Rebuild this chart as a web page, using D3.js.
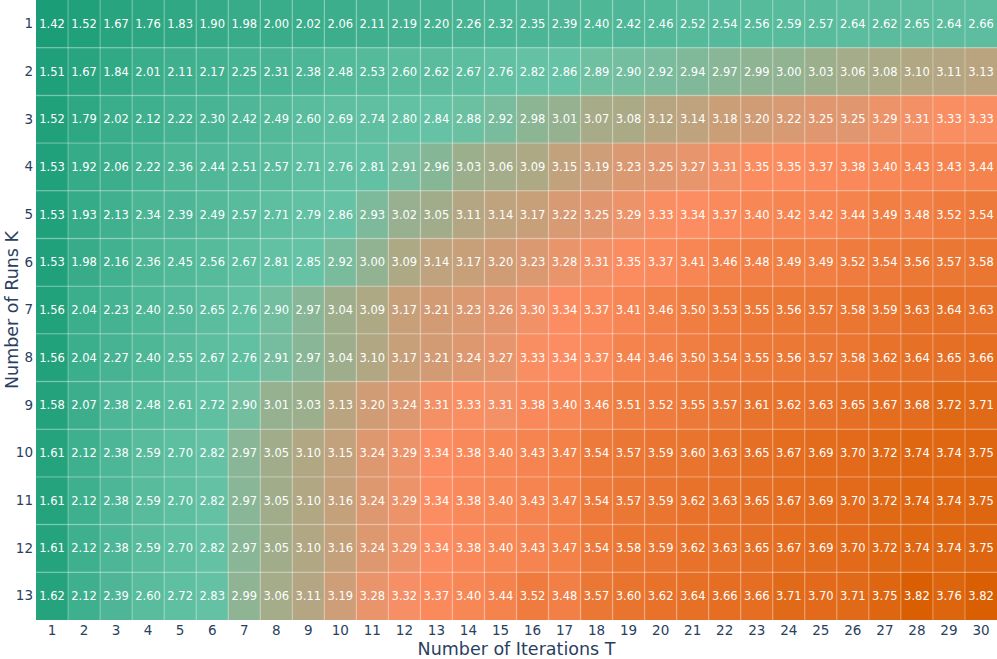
<!DOCTYPE html>
<html><head><meta charset="utf-8">
<script src="https://cdn.jsdelivr.net/npm/d3@7"></script>
<style>body{margin:0;background:#fff}svg{display:block}</style>
</head><body>
<script>
const iterations = d3.range(1, 31);
const runs = d3.range(1, 14);
const row1 = [1.42,1.52,1.67,1.76,1.83,1.90,1.98,2.00,2.02,2.06,2.11,2.19,2.20,2.26,2.32,2.35,2.39,2.40,2.42,2.46,2.52,2.54,2.56,2.59,2.57,2.64,2.62,2.65,2.64,2.66];
const row2 = [1.51,1.67,1.84,2.01,2.11,2.17,2.25,2.31,2.38,2.48,2.53,2.60,2.62,2.67,2.76,2.82,2.86,2.89,2.90,2.92,2.94,2.97,2.99,3.00,3.03,3.06,3.08,3.10,3.11,3.13];
const row3 = [1.52,1.79,2.02,2.12,2.22,2.30,2.42,2.49,2.60,2.69,2.74,2.80,2.84,2.88,2.92,2.98,3.01,3.07,3.08,3.12,3.14,3.18,3.20,3.22,3.25,3.25,3.29,3.31,3.33,3.33];
const row4 = [1.53,1.92,2.06,2.22,2.36,2.44,2.51,2.57,2.71,2.76,2.81,2.91,2.96,3.03,3.06,3.09,3.15,3.19,3.23,3.25,3.27,3.31,3.35,3.35,3.37,3.38,3.40,3.43,3.43,3.44];
const row5 = [1.53,1.93,2.13,2.34,2.39,2.49,2.57,2.71,2.79,2.86,2.93,3.02,3.05,3.11,3.14,3.17,3.22,3.25,3.29,3.33,3.34,3.37,3.40,3.42,3.42,3.44,3.49,3.48,3.52,3.54];
const row6 = [1.53,1.98,2.16,2.36,2.45,2.56,2.67,2.81,2.85,2.92,3.00,3.09,3.14,3.17,3.20,3.23,3.28,3.31,3.35,3.37,3.41,3.46,3.48,3.49,3.49,3.52,3.54,3.56,3.57,3.58];
const row7 = [1.56,2.04,2.23,2.40,2.50,2.65,2.76,2.90,2.97,3.04,3.09,3.17,3.21,3.23,3.26,3.30,3.34,3.37,3.41,3.46,3.50,3.53,3.55,3.56,3.57,3.58,3.59,3.63,3.64,3.63];
const row8 = [1.56,2.04,2.27,2.40,2.55,2.67,2.76,2.91,2.97,3.04,3.10,3.17,3.21,3.24,3.27,3.33,3.34,3.37,3.44,3.46,3.50,3.54,3.55,3.56,3.57,3.58,3.62,3.64,3.65,3.66];
const row9 = [1.58,2.07,2.38,2.48,2.61,2.72,2.90,3.01,3.03,3.13,3.20,3.24,3.31,3.33,3.31,3.38,3.40,3.46,3.51,3.52,3.55,3.57,3.61,3.62,3.63,3.65,3.67,3.68,3.72,3.71];
const row10 = [1.61,2.12,2.38,2.59,2.70,2.82,2.97,3.05,3.10,3.15,3.24,3.29,3.34,3.38,3.40,3.43,3.47,3.54,3.57,3.59,3.60,3.63,3.65,3.67,3.69,3.70,3.72,3.74,3.74,3.75];
const row11 = [1.61,2.12,2.38,2.59,2.70,2.82,2.97,3.05,3.10,3.16,3.24,3.29,3.34,3.38,3.40,3.43,3.47,3.54,3.57,3.59,3.62,3.63,3.65,3.67,3.69,3.70,3.72,3.74,3.74,3.75];
const row12 = [1.61,2.12,2.38,2.59,2.70,2.82,2.97,3.05,3.10,3.16,3.24,3.29,3.34,3.38,3.40,3.43,3.47,3.54,3.58,3.59,3.62,3.63,3.65,3.67,3.69,3.70,3.72,3.74,3.74,3.75];
const row13 = [1.62,2.12,2.39,2.60,2.72,2.83,2.99,3.06,3.11,3.19,3.28,3.32,3.37,3.40,3.44,3.52,3.48,3.57,3.60,3.62,3.64,3.66,3.66,3.71,3.70,3.71,3.75,3.82,3.76,3.82];
const values = [row1,row2,row3,row4,row5,row6,row7,row8,row9,row10,row11,row12,row13];
const colorStops = ["#1b9e77", "#66c2a5", "#fc8d62", "#d95f02"];
const stopFractions = [0, 0.6, 0.8, 1];
const xTitle = "Number of Iterations T";
const yTitle = "Number of Runs K";

const W = 997, H = 659;
const m = {left: 36, right: 0, top: 0, bottom: 39};
const svg = d3.select("body").append("svg").attr("width", W).attr("height", H);
const font = "'DejaVu Sans', sans-serif";
const axisColor = "#2a3f5f";

const x = d3.scaleBand().domain(iterations).range([m.left, W - m.right]).padding(0);
const y = d3.scaleBand().domain(runs).range([m.top, H - m.bottom]).padding(0);

const flat = values.flat();
const zmin = d3.min(flat), zmax = d3.max(flat);
const color = d3.scaleLinear()
  .domain(stopFractions.map(f => zmin + f * (zmax - zmin)))
  .range(colorStops)
  .interpolate(d3.interpolateRgb)
  .clamp(true);

const cells = [];
values.forEach((row, i) => row.forEach((v, j) => cells.push({k: runs[i], t: iterations[j], v})));

const g = svg.append("g");
g.selectAll("rect").data(cells).join("rect")
  .attr("x", d => x(d.t)).attr("y", d => y(d.k))
  .attr("width", x.bandwidth()).attr("height", y.bandwidth())
  .attr("fill", d => color(d.v));

// light grid lines
const grid = svg.append("g").attr("stroke", "#ffffff").attr("stroke-opacity", 0.22).attr("stroke-width", 1.5);
iterations.slice(1).forEach(t => grid.append("line").attr("x1", x(t)).attr("x2", x(t)).attr("y1", m.top).attr("y2", H - m.bottom));
runs.slice(1).forEach(k => grid.append("line").attr("y1", y(k)).attr("y2", y(k)).attr("x1", m.left).attr("x2", W - m.right));

g.selectAll("text").data(cells).join("text")
  .attr("x", d => x(d.t) + x.bandwidth() / 2)
  .attr("y", d => y(d.k) + y.bandwidth() / 2)
  .attr("text-anchor", "middle").attr("dominant-baseline", "central")
  .attr("fill", "#ffffff").attr("font-family", font).attr("font-size", 11.5)
  .text(d => d.v.toFixed(2));

const xAxis = svg.append("g").attr("transform", `translate(0,${H - m.bottom})`)
  .call(d3.axisBottom(x).tickSize(0).tickPadding(5));
const yAxis = svg.append("g").attr("transform", `translate(${m.left},0)`)
  .call(d3.axisLeft(y).tickSize(0).tickPadding(3));
[xAxis, yAxis].forEach(a => {
  a.select(".domain").remove();
  a.selectAll("text").attr("fill", axisColor).attr("font-family", font).attr("font-size", 13.5);
});

svg.append("text").attr("x", (m.left + W - m.right) / 2).attr("y", H - 4)
  .attr("text-anchor", "middle").attr("fill", axisColor).attr("font-family", font).attr("font-size", 17.5)
  .text(xTitle);
svg.append("text").attr("transform", `translate(18,${(m.top + H - m.bottom) / 2}) rotate(-90)`)
  .attr("text-anchor", "middle").attr("fill", axisColor).attr("font-family", font).attr("font-size", 17.5)
  .text(yTitle);
</script>
</body></html>
